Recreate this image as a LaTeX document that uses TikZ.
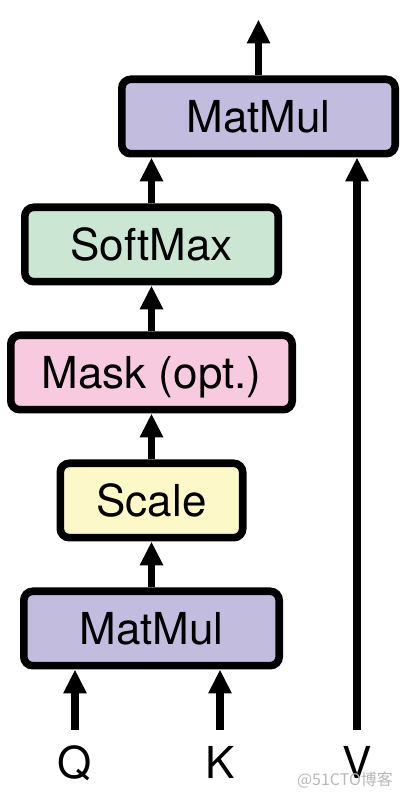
\documentclass[tikz,border=0pt]{standalone}
\usepackage{fontspec}
\setmainfont{TeX Gyre Heros}
\newfontfamily\cjk{Noto Sans CJK SC}
\usetikzlibrary{positioning}
\usetikzlibrary{arrows.meta}
\definecolor{mmcol}{HTML}{C2BDDE}
\definecolor{sccol}{HTML}{FDF8C7}
\definecolor{mkcol}{HTML}{F7CADF}
\definecolor{smcol}{HTML}{CCE6D4}
\tikzset{
	node distance = 23pt,
	box/.style = {draw, line width=3.8pt, rounded corners=4.5pt, minimum height=37.2pt, text height=15.8pt, text depth=0pt, font=\fontsize{22}{26}\selectfont},
	lbl/.style = {inner sep=0pt, outer sep=8.6pt, text height=15.8pt, text depth=0pt, font=\fontsize{22}{26}\selectfont},
	arr/.style = {line width=3.6pt, -{Triangle[length=12pt, width=11pt]}},
	wmark/.style = {anchor=base, text=black!28, font=\cjk\fontsize{8}{10}\selectfont}
}

\begin{document}
\begin{tikzpicture}
	\useasboundingbox (0,0) rectangle (202pt,400pt);
	
	\node (mm1) [box, fill=mmcol, minimum width=127.7pt] at (75.75pt,85.75pt) {MatMul};
	\node (scale) [box, fill=sccol, minimum width=91.2pt, above = of mm1] {Scale};
	\node (mask) [box, fill=mkcol, minimum width=140.7pt, above = of scale] {Mask (opt.)};
	\node (sm) [box, fill=smcol, minimum width=126.7pt, above = of mask] {SoftMax};
	\node (mm2) [box, fill=mmcol, minimum width=136.7pt, above = of sm, xshift=53.5pt] {MatMul};
	\coordinate (out) at ([yshift=28pt]mm2.north);
	
	% Inputs
	\node (q) [lbl] at (37.5pt,18.5pt) {Q};
	\node (k) [lbl] at (110pt,18.5pt) {K};
	\node (v) [lbl] at (178.5pt,18.5pt) {V};
	\node (wm) [wmark] at (172.5pt,7.5pt) {@51CTO博客};
	
	\path[arr] (q) edge (q |- mm1.south)
		(k) edge (k |- mm1.south)
		(mm1) edge (scale)
		(scale) edge (mask)
		(mask) edge (sm)
		(sm) edge (sm |- mm2.south)
		(v) edge (v |- mm2.south)
		(mm2) edge (out);
	
\end{tikzpicture}
\end{document}
